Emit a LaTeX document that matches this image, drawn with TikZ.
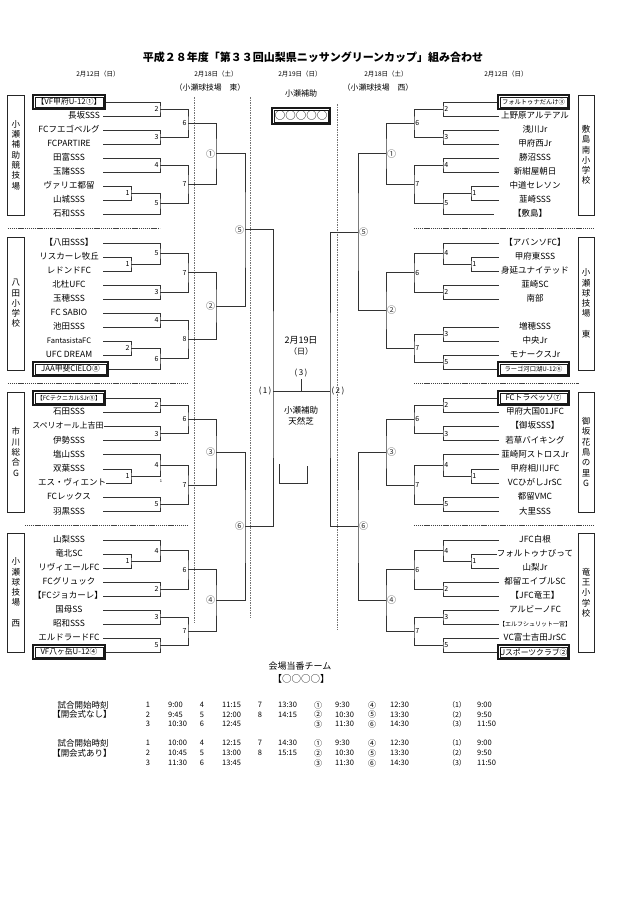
\documentclass[tikz,border=0pt]{standalone}
\usepackage{fontspec}
\setmainfont{Noto Sans CJK JP}
\usepackage{tikz}
\usetikzlibrary{positioning}
\pgfdeclarelayer{nodelayer}
\pgfdeclarelayer{edgelayer}
\pgfsetlayers{nodelayer,edgelayer,main}

\begin{document}
\begin{tikzpicture}[x=1pt, y=-1pt,
  lteam/.style={inner sep=0pt, minimum width=68pt, text height=6.5pt, text depth=1.5pt, font=\fontsize{8.5}{10}\selectfont},
  rteam/.style={lteam, minimum width=72pt},
  seed/.style={draw=black!90, line width=1.6pt, inner sep=0pt, minimum width=72pt, minimum height=14pt, font=\fontsize{7.8}{9}\selectfont,
    path picture={\draw [line width=0.45pt] ([xshift=1.9pt, yshift=-1.9pt]path picture bounding box.north west) rectangle ([xshift=-1.9pt, yshift=1.9pt]path picture bounding box.south east);}},
  venue/.style={draw=black!85, line width=0.9pt, inner sep=0pt, minimum width=17pt, align=center, font=\fontsize{8.5}{10.3}\selectfont},
  win/.style={line width=0.9pt, draw=black!80},
  lnum/.style={anchor=east, inner sep=1.2pt, font=\fontsize{7}{8}\selectfont},
  rnum/.style={lnum, anchor=west},
  lround/.style={anchor=east, inner sep=0.8pt, font=\fontsize{9}{10}\selectfont, text=black!80},
  rround/.style={lround, anchor=west},
  sep/.style={line width=0.8pt, black!75, dash pattern=on 1.2pt off 0.7pt},
  guide/.style={line width=0.5pt, black!55, dash pattern=on 1.5pt off 1pt},
  hd/.style={inner sep=0pt, font=\fontsize{6.5}{8}\selectfont},
  tbl/.style={inner sep=0pt, font=\fontsize{7.5}{9}\selectfont},
]
  \useasboundingbox (0, 0) rectangle (636, 900);
  \begin{pgfonlayer}{nodelayer}
    % heading
    \node [font=\bfseries\fontsize{11}{13}\selectfont] (title) at (313, 57.5) {平成２８年度「第３３回山梨県ニッサングリーンカップ」組み合わせ};
    \node [hd] (d1) at (98, 74) {2月12日（日）};
    \node [hd] (d2) at (216, 74) {2月18日（土）};
    \node [hd] (d3) at (300, 74) {2月19日（日）};
    \node [hd] (d4) at (386, 74) {2月18日（土）};
    \node [hd] (d5) at (506, 74) {2月12日（日）};
    \node [hd, font=\fontsize{7.8}{9}\selectfont] (p1) at (210, 88) {（小瀬球技場　東）};
    \node [hd, font=\fontsize{7.8}{9}\selectfont] (p2) at (378, 88) {（小瀬球技場　西）};
    \node [hd, font=\fontsize{8}{9}\selectfont] (p3) at (301, 93) {小瀬補助};
    \node [seed, minimum width=58pt, minimum height=16pt, font=\fontsize{10.5}{11}\selectfont] (hub) at (301, 116) {○○○○○};

    % venues
    \node [venue, minimum height=120pt] (v1) at (16, 155) {小\\瀬\\補\\助\\競\\技\\場};
    \node [venue, minimum height=133pt] (v2) at (16, 303.5) {八\\田\\小\\学\\校};
    \node [venue, minimum height=120pt] (v3) at (16, 452) {市\\川\\総\\合\\G};
    \node [venue, minimum height=119pt] (v4) at (16, 592.5) {小\\瀬\\球\\技\\場\\[10.3pt]西};
    \node [venue, minimum width=16pt, minimum height=120pt] (w1) at (586, 155) {敷\\島\\南\\小\\学\\校};
    \node [venue, minimum width=16pt, minimum height=133pt] (w2) at (586, 303.5) {小\\瀬\\球\\技\\場\\[10.3pt]東};
    \node [venue, minimum width=16pt, minimum height=120pt] (w3) at (586, 452) {御\\坂\\花\\鳥\\の\\里\\G};
    \node [venue, minimum width=16pt, minimum height=119pt] (w4) at (586, 592.5) {竜\\王\\小\\学\\校};

    % left, block 1
    \node [seed] (a1) at (69, 102) {【VF甲府U-12①】};
    \node [lteam, minimum width=37pt] (a2) at (84, 116) {長坂SSS};
    \node [lteam] (a3) at (69, 130) {FCフエゴベルグ};
    \node [lteam] (a4) at (69, 144) {FCPARTIRE};
    \node [lteam] (a5) at (69, 158) {田富SSS};
    \node [lteam] (a6) at (69, 172) {玉諸SSS};
    \node [lteam] (a7) at (69, 186) {ヴァリエ都留};
    \node [lteam] (a8) at (69, 200) {山城SSS};
    \node [lteam] (a9) at (69, 214) {石和SSS};
    \coordinate (am2) at (160, 109);
    \coordinate (am3) at (160, 137);
    \coordinate (am6) at (188, 123);
    \coordinate (am4) at (160, 165);
    \coordinate (am1) at (131, 193);
    \coordinate (am5) at (160, 203.5);
    \coordinate (am7) at (188, 184.25);
    \coordinate (L1) at (216, 153.6);
    \node [lnum] (am2t) at (am2) {2};
    \node [lnum] (am3t) at (am3) {3};
    \node [lnum] (am6t) at (am6) {6};
    \node [lnum] (am4t) at (am4) {4};
    \node [lnum] (am1t) at (am1) {1};
    \node [lnum] (am5t) at (am5) {5};
    \node [lnum] (am7t) at (am7) {7};
    \node [lround] (L1t) at (L1) {①};

    % left, block 2
    \node [lteam] (b1) at (69, 243) {【八田SSS】};
    \node [lteam] (b2) at (69, 257) {リスカーレ牧丘};
    \node [lteam] (b3) at (69, 271) {レドンドFC};
    \node [lteam] (b4) at (69, 285) {北杜UFC};
    \node [lteam] (b5) at (69, 299) {玉穂SSS};
    \node [lteam] (b6) at (69, 313) {FC SABIO};
    \node [lteam] (b7) at (69, 327) {池田SSS};
    \node [lteam, font=\fontsize{7.5}{9}\selectfont] (b8) at (69, 341) {FantasistaFC};
    \node [lteam] (b9) at (69, 355) {UFC DREAM};
    \node [seed, minimum width=75pt] (b10) at (70.5, 369) {JAA甲斐CIELO⑧};
    \coordinate (bm1) at (131, 264);
    \coordinate (bm5) at (160, 253.5);
    \coordinate (bm3) at (160, 292);
    \coordinate (bm7) at (188, 272.75);
    \coordinate (bm4) at (160, 320);
    \coordinate (bm2) at (131, 348);
    \coordinate (bm6) at (160, 358.5);
    \coordinate (bm8) at (188, 339.25);
    \coordinate (L2) at (216, 306);
    \node [lnum] (bm1t) at (bm1) {1};
    \node [lnum] (bm5t) at (bm5) {5};
    \node [lnum] (bm3t) at (bm3) {3};
    \node [lnum] (bm7t) at (bm7) {7};
    \node [lnum] (bm4t) at (bm4) {4};
    \node [lnum] (bm2t) at (bm2) {2};
    \node [lnum] (bm6t) at (bm6) {6};
    \node [lnum] (bm8t) at (bm8) {8};
    \node [lround] (L2t) at (L2) {②};

    % left, block 3
    \node [seed, font=\fontsize{6}{7}\selectfont] (c1) at (69, 398) {【FCテクニカルSJr⑤】};
    \node [lteam] (c2) at (69, 412.2) {石田SSS};
    \node [lteam, font=\fontsize{8}{9}\selectfont] (c3) at (68, 426.4) {スペリオール上吉田};
    \node [lteam] (c4) at (69, 440.6) {伊勢SSS};
    \node [lteam] (c5) at (69, 454.8) {塩山SSS};
    \node [lteam] (c6) at (69, 469) {双葉SSS};
    \node [lteam] (c7) at (72, 483.2) {エス・ヴィエント};
    \node [lteam] (c8) at (69, 497.4) {FCレックス};
    \node [lteam] (c9) at (69, 511.6) {羽黒SSS};
    \node [inner sep=0pt, font=\fontsize{4}{5}\selectfont] (c0) at (161, 481) {1};
    \coordinate (cm2) at (160, 405.1);
    \coordinate (cm3) at (160, 433.5);
    \coordinate (cm6) at (188, 419.3);
    \coordinate (cm1) at (131, 476.1);
    \coordinate (cm4) at (160, 465.45);
    \coordinate (cm5) at (160, 504.5);
    \coordinate (cm7) at (188, 484.98);
    \coordinate (L3) at (216, 452.14);
    \node [lnum] (cm2t) at (cm2) {2};
    \node [lnum] (cm3t) at (cm3) {3};
    \node [lnum] (cm6t) at (cm6) {6};
    \node [lnum] (cm1t) at (cm1) {1};
    \node [lnum] (cm4t) at (cm4) {4};
    \node [lnum] (cm5t) at (cm5) {5};
    \node [lnum] (cm7t) at (cm7) {7};
    \node [lround] (L3t) at (L3) {③};

    % left, block 4
    \node [lteam] (e1) at (69, 540) {山梨SSS};
    \node [lteam] (e2) at (69, 554) {竜北SC};
    \node [lteam] (e3) at (69, 568) {リヴィエールFC};
    \node [lteam] (e4) at (69, 582) {FCグリュック};
    \node [lteam] (e5) at (68, 596) {【FCジョカーレ】};
    \node [lteam] (e6) at (69, 610) {国母SS};
    \node [lteam] (e7) at (69, 624) {昭和SSS};
    \node [lteam] (e8) at (69, 638) {エルドラードFC};
    \node [seed] (e9) at (69, 652) {VF八ヶ岳U-12④};
    \coordinate (em1) at (131, 561);
    \coordinate (em4) at (160, 550.5);
    \coordinate (em2) at (160, 589);
    \coordinate (em6) at (188, 569.75);
    \coordinate (em3) at (160, 617);
    \coordinate (em5) at (160, 645);
    \coordinate (em7) at (188, 631);
    \coordinate (L4) at (216, 600.4);
    \node [lnum] (em1t) at (em1) {1};
    \node [lnum] (em4t) at (em4) {4};
    \node [lnum] (em2t) at (em2) {2};
    \node [lnum] (em6t) at (em6) {6};
    \node [lnum] (em3t) at (em3) {3};
    \node [lnum] (em5t) at (em5) {5};
    \node [lnum] (em7t) at (em7) {7};
    \node [lround] (L4t) at (L4) {④};

    % right, block 1
    \node [seed, minimum width=71pt, font=\fontsize{6.3}{7}\selectfont] (f1) at (533.5, 102) {フォルトゥナだんけ③};
    \node [rteam] (f2) at (535, 116) {上野原アルテアル};
    \node [rteam] (f3) at (535, 130) {浅川Jr};
    \node [rteam] (f4) at (535, 144) {甲府西Jr};
    \node [rteam] (f5) at (535, 158) {勝沼SSS};
    \node [rteam] (f6) at (535, 172) {新紺屋朝日};
    \node [rteam] (f7) at (535, 186) {中道セレソン};
    \node [rteam] (f8) at (535, 200) {韮崎SSS};
    \node [rteam] (f9) at (530, 214) {【敷島】};
    \coordinate (fm2) at (443, 109);
    \coordinate (fm3) at (443, 137);
    \coordinate (fm6) at (414, 123);
    \coordinate (fm4) at (443, 165);
    \coordinate (fm1) at (471, 193);
    \coordinate (fm5) at (443, 203.5);
    \coordinate (fm7) at (414, 184.25);
    \coordinate (R1) at (386, 153.6);
    \node [rnum] (fm2t) at (fm2) {2};
    \node [rnum] (fm3t) at (fm3) {3};
    \node [rnum] (fm6t) at (fm6) {6};
    \node [rnum] (fm4t) at (fm4) {4};
    \node [rnum] (fm1t) at (fm1) {1};
    \node [rnum] (fm5t) at (fm5) {5};
    \node [rnum] (fm7t) at (fm7) {7};
    \node [rround] (R1t) at (R1) {①};

    % right, block 2
    \node [rteam] (g1) at (535, 243) {【アバンソFC】};
    \node [rteam] (g2) at (535, 257) {甲府東SSS};
    \node [rteam] (g3) at (535, 271) {身延ユナイテッド};
    \node [rteam] (g4) at (535, 285) {韮崎SC};
    \node [rteam] (g5) at (535, 299) {南部};
    \node [rteam] (g6) at (535, 327) {増穂SSS};
    \node [rteam] (g7) at (535, 341) {中央Jr};
    \node [rteam] (g8) at (535, 355) {モナークスJr};
    \node [seed, minimum width=71pt, font=\fontsize{6.3}{7}\selectfont] (g9) at (533.5, 369) {ラーゴ河口湖U-12⑥};
    \coordinate (gm1) at (471, 264);
    \coordinate (gm4) at (443, 253.5);
    \coordinate (gm2) at (443, 292);
    \coordinate (gm6) at (414, 272.75);
    \coordinate (gm3) at (443, 334);
    \coordinate (gm5) at (443, 362);
    \coordinate (gm7) at (414, 348);
    \coordinate (R2) at (386, 310.4);
    \node [rnum] (gm1t) at (gm1) {1};
    \node [rnum] (gm4t) at (gm4) {4};
    \node [rnum] (gm2t) at (gm2) {2};
    \node [rnum] (gm6t) at (gm6) {6};
    \node [rnum] (gm3t) at (gm3) {3};
    \node [rnum] (gm5t) at (gm5) {5};
    \node [rnum] (gm7t) at (gm7) {7};
    \node [rround] (R2t) at (R2) {②};

    % right, block 3
    \node [seed, minimum width=71pt] (h1) at (533.5, 398) {FCトラベッソ⑦};
    \node [rteam] (h2) at (535, 412.2) {甲府大国01JFC};
    \node [rteam] (h3) at (535, 426.4) {【御坂SSS】};
    \node [rteam] (h4) at (535, 440.6) {若草バイキング};
    \node [rteam] (h5) at (535, 454.8) {韮崎阿ストロスJr};
    \node [rteam] (h6) at (535, 469) {甲府相川JFC};
    \node [rteam] (h7) at (535, 483.2) {VCひがしJrSC};
    \node [rteam] (h8) at (535, 497.4) {都留VMC};
    \node [rteam] (h9) at (535, 511.6) {大里SSS};
    \coordinate (hm2) at (443, 405.1);
    \coordinate (hm3) at (443, 433.5);
    \coordinate (hm6) at (414, 419.3);
    \coordinate (hm1) at (471, 476.1);
    \coordinate (hm4) at (443, 465.45);
    \coordinate (hm5) at (443, 504.5);
    \coordinate (hm7) at (414, 484.98);
    \coordinate (R3) at (386, 452.14);
    \node [rnum] (hm2t) at (hm2) {2};
    \node [rnum] (hm3t) at (hm3) {3};
    \node [rnum] (hm6t) at (hm6) {6};
    \node [rnum] (hm1t) at (hm1) {1};
    \node [rnum] (hm4t) at (hm4) {4};
    \node [rnum] (hm5t) at (hm5) {5};
    \node [rnum] (hm7t) at (hm7) {7};
    \node [rround] (R3t) at (R3) {③};

    % right, block 4
    \node [rteam] (k1) at (535, 540) {JFC白根};
    \node [rteam] (k2) at (535, 554) {フォルトゥナびって};
    \node [rteam] (k3) at (535, 568) {山梨Jr};
    \node [rteam] (k4) at (535, 582) {都留エイブルSC};
    \node [rteam] (k5) at (535, 596) {【JFC竜王】};
    \node [rteam] (k6) at (535, 610) {アルビーノFC};
    \node [rteam, font=\fontsize{6}{7}\selectfont] (k7) at (535, 624) {【エルフシュリット一宮】};
    \node [rteam] (k8) at (535, 638) {VC富士吉田JrSC};
    \node [seed, minimum width=71pt] (k9) at (533.5, 652) {Uスポーツクラブ②};
    \coordinate (km1) at (471, 561);
    \coordinate (km4) at (443, 550.5);
    \coordinate (km2) at (443, 589);
    \coordinate (km6) at (414, 569.75);
    \coordinate (km3) at (443, 617);
    \coordinate (km5) at (443, 645);
    \coordinate (km7) at (414, 631);
    \coordinate (R4) at (386, 600.4);
    \node [rnum] (km1t) at (km1) {1};
    \node [rnum] (km4t) at (km4) {4};
    \node [rnum] (km2t) at (km2) {2};
    \node [rnum] (km6t) at (km6) {6};
    \node [rnum] (km3t) at (km3) {3};
    \node [rnum] (km5t) at (km5) {5};
    \node [rnum] (km7t) at (km7) {7};
    \node [rround] (R4t) at (R4) {④};

    % semi finals and final
    \coordinate (L5) at (245, 229.8);
    \coordinate (L6) at (245, 526.3);
    \coordinate (R5) at (358, 232);
    \coordinate (R6) at (358, 526.3);
    \coordinate (F1) at (273, 391);
    \coordinate (F2) at (330, 391);
    \coordinate (F3) at (301, 391);
    \coordinate (F3t) at (301, 379);
    \node [lround] (L5t) at (L5) {⑤};
    \node [lround] (L6t) at (L6) {⑥};
    \node [rround] (R5t) at (R5) {⑤};
    \node [rround] (R6t) at (R6) {⑥};
    \node [anchor=east, inner sep=1.5pt, font=\fontsize{8}{9}\selectfont] (F1t) at (F1) {(\,1\,)};
    \node [anchor=west, inner sep=1.5pt, font=\fontsize{8}{9}\selectfont] (F2t) at (F2) {(\,2\,)};
    \node [anchor=south, inner sep=2pt, font=\fontsize{8}{9}\selectfont] (F3l) at (F3t) {(\,3\,)};
    \node [font=\fontsize{9}{10}\selectfont] (fd1) at (301, 340) {2月19日};
    \node [font=\fontsize{8}{9}\selectfont] (fd2) at (301, 351) {（日）};
    \node [font=\fontsize{8.5}{10}\selectfont] (fv1) at (301, 410) {小瀬補助};
    \node [font=\fontsize{8.5}{10}\selectfont] (fv2) at (301, 421) {天然芝};

    % duty team and times
    \node [font=\fontsize{9}{10}\selectfont] (duty) at (300, 666) {会場当番チーム};
    \node [font=\fontsize{9.5}{10}\selectfont] (dutyt) at (301, 679) {【○○○○】};
    \node [tbl, font=\fontsize{8.5}{10}\selectfont] (s1) at (83, 705) {試合開始時刻};
    \node [tbl, font=\fontsize{8.5}{10}\selectfont] (s2) at (82, 714.5) {【開会式なし】};
    \node [tbl, font=\fontsize{8.5}{10}\selectfont] (s3) at (83, 743) {試合開始時刻};
    \node [tbl, font=\fontsize{8.5}{10}\selectfont] (s4) at (82, 753) {【開会式あり】};
    \foreach \rw/\yy/\na/\ta/\nb/\tb/\nc/\tc/\nd/\td/\ne/\te/\nf/\tf in {
      1/705/1/9:00/4/11:15/7/13:30/①/9:30/④/12:30/（1）/9:00,
      2/714.5/2/9:45/5/12:00/8/14:15/②/10:30/⑤/13:30/（2）/9:50,
      3/724/3/10:30/6/12:45///③/11:30/⑥/14:30/（3）/11:50,
      4/743/1/10:00/4/12:15/7/14:30/①/9:30/④/12:30/（1）/9:00,
      5/753/2/10:45/5/13:00/8/15:15/②/10:30/⑤/13:30/（2）/9:50,
      6/763/3/11:30/6/13:45///③/11:30/⑥/14:30/（3）/11:50}
    {
      \node [tbl] (na\rw) at (148, \yy) {\na};
      \node [tbl, anchor=west] (ta\rw) at (168, \yy) {\ta};
      \node [tbl] (nb\rw) at (202, \yy) {\nb};
      \node [tbl, anchor=west] (tb\rw) at (222, \yy) {\tb};
      \node [tbl] (nc\rw) at (260, \yy) {\nc};
      \node [tbl, anchor=west] (tc\rw) at (278, \yy) {\tc};
      \node [tbl, font=\fontsize{8}{9}\selectfont] (nd\rw) at (318, \yy) {\nd};
      \node [tbl, anchor=west] (td\rw) at (335, \yy) {\td};
      \node [tbl, font=\fontsize{8}{9}\selectfont] (ne\rw) at (372, \yy) {\ne};
      \node [tbl, anchor=west] (te\rw) at (390, \yy) {\te};
      \node [tbl, font=\fontsize{7}{8}\selectfont] (nf\rw) at (457, \yy) {\nf};
      \node [tbl, anchor=west] (tf\rw) at (477, \yy) {\tf};
    }
  \end{pgfonlayer}
  \begin{pgfonlayer}{edgelayer}
    % guides and separators
    \draw [guide] (194, 97) -- (194, 623);
    \draw [guide] (250, 97) -- (250, 618);
    \draw [guide] (337, 104) -- (337, 630);
    \draw [sep] (8, 228.5) -- (160, 228.5);
    \draw [sep] (8, 383.5) -- (188, 383.5);
    \draw [sep] (25, 525.5) -- (188, 525.5);
    \draw [sep] (414, 228.5) -- (594, 228.5);
    \draw [sep] (414, 383.5) -- (579, 383.5);
    \draw [sep] (414, 525.5) -- (594, 525.5);
    \draw [line width=0.8pt, black!80] (279, 464) -- (279, 483) -- (307, 483) -- (307, 466);

    \draw [win] (a1) -| (am2) |- (a2);
    \draw [win] (a3) -| (am3) |- (a4);
    \draw [win] (am2) -| (am6) |- (am3);
    \draw [win] (a5) -| (am4) |- (a6);
    \draw [win] (a7) -| (am1) |- (a8);
    \draw [win] (am1) -| (am5) |- (a9);
    \draw [win] (am4) -| (am7) |- (am5);
    \draw [win] (am6) -| (L1) |- (am7);

    \draw [win] (b2) -| (bm1) |- (b3);
    \draw [win] (b1) -| (bm5) |- (bm1);
    \draw [win] (b4) -| (bm3) |- (b5);
    \draw [win] (bm5) -| (bm7) |- (bm3);
    \draw [win] (b6) -| (bm4) |- (b7);
    \draw [win] (b8) -| (bm2) |- (b9);
    \draw [win] (bm2) -| (bm6) |- (b10);
    \draw [win] (bm4) -| (bm8) |- (bm6);
    \draw [win] (bm7) -| (L2) |- (bm8);

    \draw [win] (c1) -| (cm2) |- (c2);
    \draw [win] (c3) -| (cm3) |- (c4);
    \draw [win] (cm2) -| (cm6) |- (cm3);
    \draw [win] (c6) -| (cm1) |- (c7);
    \draw [win] (c5) -| (cm4) |- (cm1);
    \draw [win] (c8) -| (cm5) |- (c9);
    \draw [win] (cm4) -| (cm7) |- (cm5);
    \draw [win] (cm6) -| (L3) |- (cm7);

    \draw [win] (e2) -| (em1) |- (e3);
    \draw [win] (e1) -| (em4) |- (em1);
    \draw [win] (e4) -| (em2) |- (e5);
    \draw [win] (em4) -| (em6) |- (em2);
    \draw [win] (e6) -| (em3) |- (e7);
    \draw [win] (e8) -| (em5) |- (e9);
    \draw [win] (em3) -| (em7) |- (em5);
    \draw [win] (em6) -| (L4) |- (em7);

    \draw [win] (f1) -| (fm2) |- (f2);
    \draw [win] (f3) -| (fm3) |- (f4);
    \draw [win] (fm2) -| (fm6) |- (fm3);
    \draw [win] (f5) -| (fm4) |- (f6);
    \draw [win] (f7) -| (fm1) |- (f8);
    \draw [win] (fm1) -| (fm5) |- (f9);
    \draw [win] (fm4) -| (fm7) |- (fm5);
    \draw [win] (fm6) -| (R1) |- (fm7);

    \draw [win] (g2) -| (gm1) |- (g3);
    \draw [win] (g1) -| (gm4) |- (gm1);
    \draw [win] (g4) -| (gm2) |- (g5);
    \draw [win] (gm4) -| (gm6) |- (gm2);
    \draw [win] (g6) -| (gm3) |- (g7);
    \draw [win] (g8) -| (gm5) |- (g9);
    \draw [win] (gm3) -| (gm7) |- (gm5);
    \draw [win] (gm6) -| (R2) |- (gm7);

    \draw [win] (h1) -| (hm2) |- (h2);
    \draw [win] (h3) -| (hm3) |- (h4);
    \draw [win] (hm2) -| (hm6) |- (hm3);
    \draw [win] (h6) -| (hm1) |- (h7);
    \draw [win] (h5) -| (hm4) |- (hm1);
    \draw [win] (h8) -| (hm5) |- (h9);
    \draw [win] (hm4) -| (hm7) |- (hm5);
    \draw [win] (hm6) -| (R3) |- (hm7);

    \draw [win] (k2) -| (km1) |- (k3);
    \draw [win] (k1) -| (km4) |- (km1);
    \draw [win] (k4) -| (km2) |- (k5);
    \draw [win] (km4) -| (km6) |- (km2);
    \draw [win] (k6) -| (km3) |- (k7);
    \draw [win] (k8) -| (km5) |- (k9);
    \draw [win] (km3) -| (km7) |- (km5);
    \draw [win] (km6) -| (R4) |- (km7);

    \draw [win] (L1) -| (L5) |- (L2);
    \draw [win] (L3) -| (L6) |- (L4);
    \draw [win] (R1) -| (R5) |- (R2);
    \draw [win] (R3) -| (R6) |- (R4);
    \draw [win] (L5) -| (F1) |- (L6);
    \draw [win] (R5) -| (F2) |- (R6);
    \draw [win] (F1) -- (F2);
    \draw [win] (F3) -- (F3t);
  \end{pgfonlayer}
\end{tikzpicture}
\end{document}
